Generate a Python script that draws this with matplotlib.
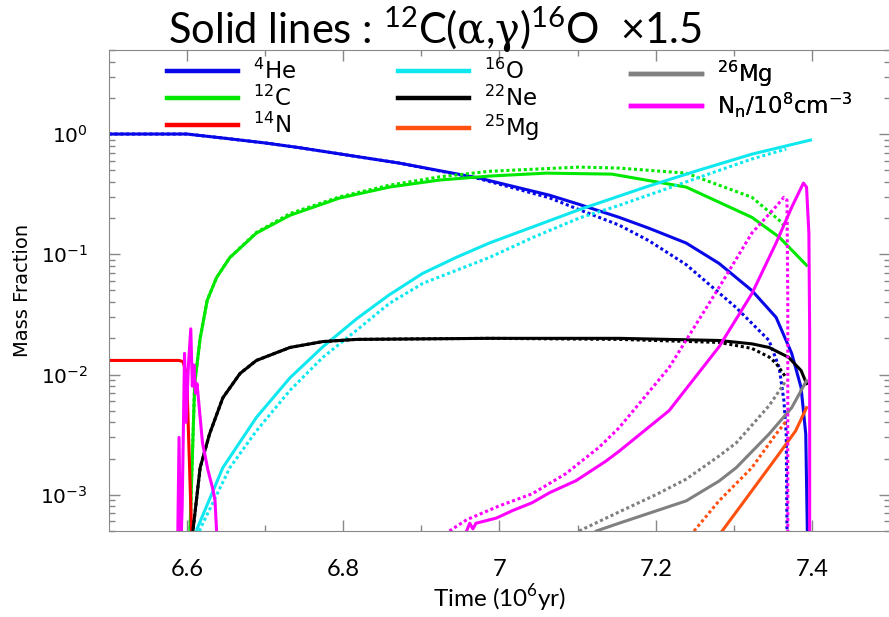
import matplotlib
matplotlib.use("Agg")
import matplotlib.pyplot as plt
from matplotlib.ticker import FixedLocator, LogLocator, NullFormatter

plt.rcParams["font.family"] = ["DejaVu Sans"]
plt.rcParams["mathtext.fontset"] = "dejavusans"
# fonts for the "custom" math set, used by the title and x label only
plt.rcParams["mathtext.rm"] = "Lato"
plt.rcParams["mathtext.sf"] = "DejaVu Serif"

# ---- abundances vs time (Myr); "_d" = reference rate (dotted) ----
he4_t = [6.50, 6.60, 6.65, 6.702, 6.744, 6.872, 6.974, 7.064, 7.102, 7.153, 7.191, 7.239,
         7.281, 7.323, 7.354, 7.374, 7.386, 7.392, 7.394, 7.395]
he4_v = [1.0, 1.0, 0.92, 0.84, 0.77, 0.573, 0.43, 0.31, 0.26, 0.203, 0.165, 0.124,
         0.084, 0.05, 0.0299, 0.015, 0.0078, 0.0032, 0.0005, 0.0003]
he4_d_t = [6.50, 6.60, 6.65, 6.702, 6.744, 6.872, 6.974, 7.064, 7.102, 7.153, 7.191, 7.239,
           7.303, 7.345, 7.358, 7.364, 7.367, 7.368, 7.369]
he4_d_v = [1.0, 1.0, 0.92, 0.84, 0.77, 0.573, 0.425, 0.295, 0.235, 0.175, 0.13, 0.082,
           0.036, 0.0192, 0.0114, 0.0061, 0.0032, 0.0005, 0.0003]

c12_t = [6.600, 6.604, 6.610, 6.617, 6.626, 6.638, 6.655, 6.689, 6.732, 6.795, 6.859,
         6.923, 6.987, 7.06, 7.144, 7.239, 7.323, 7.358, 7.393]
c12_v = [0.0003, 0.0005, 0.0084, 0.020, 0.0414, 0.064, 0.094, 0.150, 0.211, 0.293, 0.362,
         0.414, 0.447, 0.473, 0.464, 0.362, 0.203, 0.139, 0.081]
c12_d_t = [6.600, 6.604, 6.610, 6.617, 6.626, 6.638, 6.655, 6.689, 6.732, 6.795, 6.859,
           6.923, 6.987, 7.102, 7.153, 7.239, 7.323, 7.358, 7.367]
c12_d_v = [0.0003, 0.0005, 0.0084, 0.020, 0.0414, 0.064, 0.094, 0.152, 0.218, 0.30, 0.375,
           0.44, 0.49, 0.531, 0.521, 0.473, 0.298, 0.192, 0.165]

n14_t = [6.50, 6.59, 6.595, 6.598, 6.600, 6.602, 6.606, 6.607]
n14_v = [0.0131, 0.0131, 0.0128, 0.011, 0.0089, 0.0034, 0.0005, 0.0003]

o16_t = [6.611, 6.613, 6.646, 6.689, 6.732, 6.774, 6.817, 6.859, 6.902, 6.945, 6.987,
         7.102, 7.187, 7.255, 7.323, 7.398]
o16_v = [0.0004, 0.00052, 0.00168, 0.0044, 0.0094, 0.0170, 0.029, 0.046, 0.0695, 0.0944,
         0.124, 0.235, 0.362, 0.50, 0.68, 0.891]
o16_d_t = [6.614, 6.617, 6.655, 6.689, 6.732, 6.774, 6.817, 6.859, 6.902, 6.945, 6.987,
           7.045, 7.102, 7.153, 7.239, 7.323, 7.367]
o16_d_v = [0.0004, 0.00052, 0.00168, 0.0034, 0.0074, 0.0139, 0.0233, 0.039, 0.0573, 0.0736,
           0.094, 0.140, 0.200, 0.255, 0.40, 0.62, 0.75]

ne22_t = [6.606, 6.608, 6.617, 6.629, 6.646, 6.668, 6.689, 6.732, 6.774, 6.817, 6.987,
          7.153, 7.281, 7.323, 7.345, 7.370, 7.386, 7.393]
ne22_v = [0.0003, 0.00052, 0.00168, 0.0032, 0.0064, 0.0102, 0.0131, 0.0168, 0.0188, 0.0196,
          0.0200, 0.0200, 0.0192, 0.0180, 0.0168, 0.0139, 0.0108, 0.0084]
ne22_d_t = [6.606, 6.608, 6.617, 6.629, 6.646, 6.668, 6.689, 6.732, 6.774, 6.817, 6.987,
            7.153, 7.281, 7.323, 7.345, 7.354, 7.367]
ne22_d_v = [0.0003, 0.00052, 0.00168, 0.0032, 0.0064, 0.0102, 0.0131, 0.0168, 0.0188, 0.0196,
            0.0200, 0.0196, 0.0185, 0.0165, 0.0140, 0.0124, 0.0094]

mg25_t = [7.285, 7.323, 7.358, 7.379, 7.393]
mg25_v = [0.0005, 0.00108, 0.0022, 0.0034, 0.0053]
mg25_d_t = [7.249, 7.281, 7.323, 7.354, 7.367]
mg25_d_v = [0.0005, 0.00089, 0.00168, 0.0032, 0.0041]

mg26_t = [7.124, 7.153, 7.239, 7.281, 7.303, 7.345, 7.374, 7.393]
mg26_v = [0.0005, 0.00058, 0.00089, 0.0013, 0.00168, 0.0032, 0.0053, 0.0089]
mg26_d_t = [7.102, 7.153, 7.20, 7.239, 7.281, 7.303, 7.345, 7.367]
mg26_d_v = [0.0005, 0.00072, 0.0010, 0.00135, 0.0021, 0.0027, 0.0055, 0.0089]

# neutron density / 1e8 cm^-3: early burst and main burst
nn_early_t = [6.588, 6.590, 6.592, 6.594, 6.597, 6.599, 6.602, 6.605, 6.607, 6.609, 6.611,
              6.613, 6.620, 6.627, 6.633, 6.636, 6.638, 6.639]
nn_early_v = [0.0003, 0.003, 0.0003, 0.0008, 0.015, 0.004, 0.012, 0.024, 0.008, 0.012,
              0.007, 0.0084, 0.0027, 0.0016, 0.00113, 0.0009, 0.0005, 0.0003]
nn_t = [6.958, 6.962, 6.966, 6.970, 6.996, 7.017, 7.042, 7.064, 7.098, 7.136, 7.153,
        7.217, 7.281, 7.323, 7.354, 7.374, 7.389, 7.393, 7.396, 7.397, 7.397]
nn_v = [0.0005, 0.00058, 0.00052, 0.00058, 0.00064, 0.00074, 0.00086, 0.00104, 0.00131,
        0.0019, 0.0023, 0.005, 0.017, 0.047, 0.124, 0.246, 0.391, 0.362, 0.150, 0.022, 0.0003]
nn_d_t = [6.936, 6.958, 7.0, 7.042, 7.085, 7.128, 7.153, 7.217, 7.281, 7.323, 7.354,
          7.364, 7.368, 7.369, 7.369]
nn_d_v = [0.0005, 0.00062, 0.00081, 0.00102, 0.0015, 0.0025, 0.0036, 0.0114, 0.053,
          0.15, 0.25, 0.298, 0.282, 0.041, 0.0003]

x_ticks = [6.6, 6.8, 7.0, 7.2, 7.4]
x_tick_labels = ["6.6", "6.8", "7", "7.2", "7.4"]
y_ticks = [1e-3, 1e-2, 1e-1, 1e0]
y_tick_labels = [r"$10^{-3}$", r"$10^{-2}$", r"$10^{-1}$", r"$10^{0}$"]

species = [
    (r"$^{4}$He", "#0808e8", he4_t, he4_v, he4_d_t, he4_d_v),
    (r"$^{12}$C", "#00e800", c12_t, c12_v, c12_d_t, c12_d_v),
    (r"$^{14}$N", "#ff0000", n14_t, n14_v, None, None),
    (r"$^{16}$O", "#10e8f0", o16_t, o16_v, o16_d_t, o16_d_v),
    (r"$^{22}$Ne", "#000000", ne22_t, ne22_v, ne22_d_t, ne22_d_v),
    (r"$^{25}$Mg", "#ff5010", mg25_t, mg25_v, mg25_d_t, mg25_d_v),
    (r"$^{26}$Mg", "#808080", mg26_t, mg26_v, mg26_d_t, mg26_d_v),
    (r"N$_{\rm n}$/10$^{8}$cm$^{-3}$", "#ff00ff", nn_t, nn_v, nn_d_t, nn_d_v),
]

fig = plt.figure(figsize=(8.89, 6.17), dpi=100)
ax = fig.add_axes([0.1223, 0.1394, 0.8790, 0.7796])

lw = 2.2
solid_lines = []
for label, col, t, v, td, vd in species:
    ln, = ax.plot(t, v, color=col, lw=lw, label=label, solid_joinstyle="round")
    solid_lines.append(ln)
    if td is not None:
        ax.plot(td, vd, color=col, lw=lw, linestyle=(0, (1.0, 0.9)))
ax.plot(nn_early_t, nn_early_v, color="#ff00ff", lw=lw)

ax.set_yscale("log")
ax.set_xlim(6.5, 7.5)
ax.set_ylim(5e-4, 5)

ax.xaxis.set_major_locator(FixedLocator(x_ticks))
ax.set_xticklabels(x_tick_labels, fontfamily="Lato", fontsize=17)
ax.xaxis.set_minor_locator(FixedLocator([6.7, 6.9, 7.1, 7.3, 7.5]))
ax.yaxis.set_major_locator(FixedLocator(y_ticks))
ax.set_yticklabels(y_tick_labels, fontsize=14.5)
ax.yaxis.set_minor_locator(LogLocator(base=10, subs=range(2, 10)))
ax.yaxis.set_minor_formatter(NullFormatter())

ax.tick_params(which="both", direction="in", top=True, right=True, color="#888888")
ax.tick_params(which="major", length=8, width=1)
ax.tick_params(which="minor", length=4, width=1)
ax.tick_params(axis="x", pad=20)
ax.tick_params(axis="y", pad=15)
for sp in ax.spines.values():
    sp.set_color("#888888")

ax.set_ylabel("Mass Fraction", fontsize=14, labelpad=6)
ax.set_xlabel(r"Time (10$^{6}$yr)", fontfamily="Lato", fontsize=17.5,
              math_fontfamily="custom", labelpad=2)

fig.text(0.489, 0.952, r"Solid lines : $^{12}$C($\mathsf{\alpha}$,$\mathsf{\gamma}$)$^{16}$O  ×1.5",
         ha="center", va="center", fontfamily="Lato", fontsize=30, math_fontfamily="custom")

# three legend columns, placed individually
col_x = [0.1879, 0.4477, 0.7098]
groups = [solid_lines[0:3], solid_lines[3:6], solid_lines[6:8]]
for x0, hs in zip(col_x, groups):
    leg = ax.legend(handles=hs, loc="upper left", bbox_to_anchor=(x0, 0.905),
                    bbox_transform=fig.transFigure, frameon=False, fontsize=16.5,
                    handlelength=3.1, handletextpad=0.66, labelspacing=0.08,
                    borderpad=0, borderaxespad=0)
    for h in leg.legend_handles:
        h.set_linewidth(3.2)
    ax.add_artist(leg)

fig.savefig("out.png", dpi=100)
